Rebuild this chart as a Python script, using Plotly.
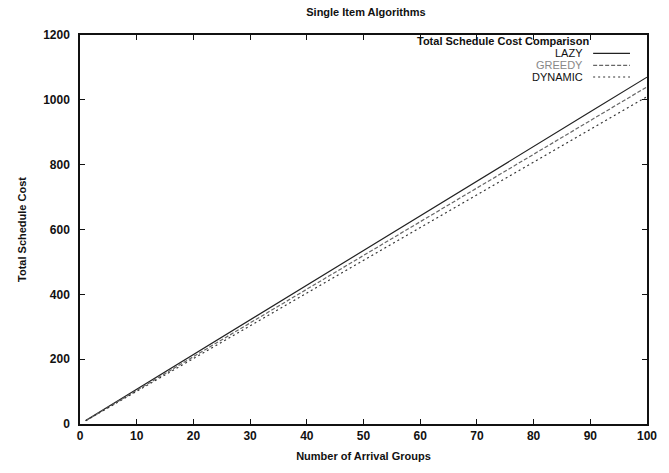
import plotly.graph_objects as go

groups = [1, 10, 20, 30, 40, 50, 60, 70, 80, 90, 100]
lazy = [11, 107, 214, 321, 428, 535, 642, 749, 856, 963, 1070]
greedy = [10, 104, 208, 312, 416, 520, 624, 728, 832, 936, 1040]
dynamic = [10, 101, 202, 303, 404, 505, 606, 707, 808, 909, 1010]

x_ticks = [0, 10, 20, 30, 40, 50, 60, 70, 80, 90, 100]
y_ticks = [0, 200, 400, 600, 800, 1000, 1200]

series = [
    ("LAZY", lazy, "#222222", "solid", "#111111"),
    ("GREEDY", greedy, "#666666", "4px,2px", "#888888"),
    ("DYNAMIC", dynamic, "#333333", "2px,3px", "#111111"),
]

font = "Liberation Sans, Arial, sans-serif"

fig = go.Figure()
for name, vals, color, dash, _ in series:
    fig.add_trace(go.Scatter(x=groups, y=vals, mode="lines", name=name,
                             line=dict(color=color, width=1.2, dash=dash),
                             showlegend=False))

# key box in the upper right corner: title, right-aligned labels, line samples
fig.add_annotation(x=0.899, y=0.985, xref="paper", yref="paper", xanchor="right",
                   yanchor="middle", showarrow=False, borderpad=0,
                   text="<b>Total Schedule Cost Comparison</b>",
                   font=dict(family=font, size=11, color="#111111"))
key_y = [0.953, 0.922, 0.892]
for (name, _, color, dash, tcolor), ky in zip(series, key_y):
    fig.add_annotation(x=0.889, y=ky, xref="paper", yref="paper", xanchor="right",
                       yanchor="middle", showarrow=False, text=name, borderpad=0,
                       font=dict(family=font, size=11, color=tcolor))
    fig.add_shape(type="line", xref="paper", yref="paper", x0=0.905, x1=0.97,
                  y0=ky, y1=ky, line=dict(color=color, width=1.2, dash=dash))

axis_common = dict(showgrid=False, zeroline=False, showline=True, linecolor="#111111",
                   linewidth=1.5, mirror="ticks", ticks="inside", ticklen=5,
                   tickcolor="#111111",
                   tickfont=dict(family=font, size=12, color="#111111", weight="bold"))

fig.update_layout(
    width=669, height=473,
    margin=dict(l=80, r=12, t=35, b=49),
    paper_bgcolor="white", plot_bgcolor="white",
    title=dict(text="<b>Single Item Algorithms</b>", x=0.547, xanchor="center",
               y=0.975, yanchor="middle", font=dict(family=font, size=11, color="#111111")),
    xaxis=dict(range=[0, 100], tickvals=x_ticks,
               title=dict(text="<b>Number of Arrival Groups</b>", standoff=10,
                          font=dict(family=font, size=11, color="#111111")),
               **axis_common),
    yaxis=dict(range=[0, 1200], tickvals=y_ticks, ticklabelstandoff=6,
               title=dict(text="<b>Total Schedule Cost</b>", standoff=14,
                          font=dict(family=font, size=11, color="#111111")),
               **axis_common),
)

fig.write_html("out.html")
